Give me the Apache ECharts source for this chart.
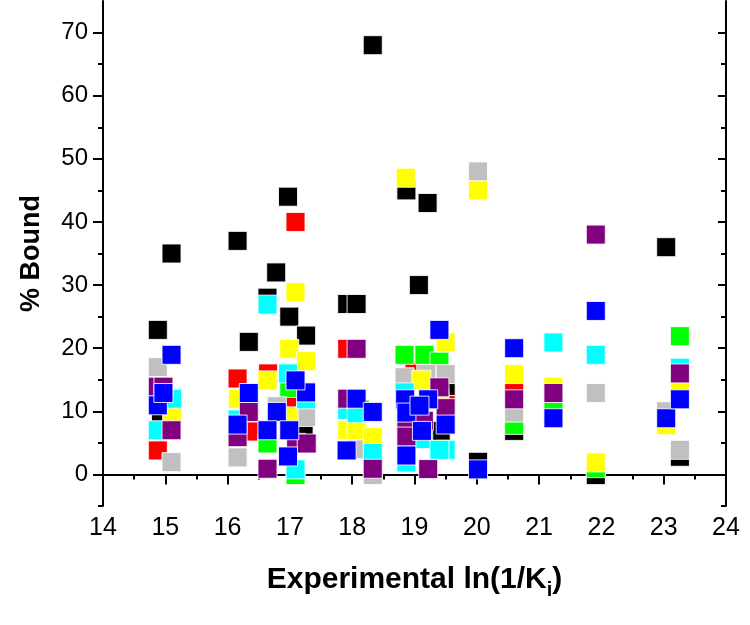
<!DOCTYPE html>
<html>
<head>
<meta charset="utf-8">
<script src="https://cdn.jsdelivr.net/npm/echarts@6/dist/echarts.min.js"></script>
<style>html,body{margin:0;padding:0;background:#fff;}#chart{width:750px;height:625px;}</style>
</head>
<body>
<div id="chart"></div>
<script>
// ---- data ([ln(1/Ki), % bound]) per colour ----
const black = [[14.88,22.9],[15.10,35.0],[14.93,9.5],[16.16,37.0],[16.34,21.0],[16.64,28.0],[16.78,32.0],[16.97,44.0],[16.99,25.0],[17.26,22.0],[17.22,7.0],[17.92,27.0],[18.07,27.0],[18.33,68.0],[18.87,45.0],[19.07,30.0],[19.21,43.0],[19.42,6.9],[19.50,13.0],[20.02,2.0],[20.60,6.9],[21.91,-0.1],[23.04,36.0],[23.26,2.8]];
const red = [[14.88,3.8],[16.16,15.2],[16.34,6.8],[16.65,16.0],[17.02,11.6],[17.09,40.0],[17.92,19.9],[19.00,16.5],[19.50,11.0],[20.60,14.0]];
const green = [[16.64,4.9],[16.99,13.7],[17.09,-0.1],[17.26,10.5],[18.12,10.3],[18.84,18.95],[19.16,18.95],[19.40,17.9],[20.60,7.85],[21.23,10.9],[21.91,1.0],[23.26,21.9]];
const gray = [[14.88,17.0],[15.10,1.95],[16.16,2.7],[16.79,10.8],[17.26,9.1],[18.07,4.0],[18.33,-0.1],[18.84,15.4],[19.19,15.9],[19.50,15.9],[20.02,48.0],[20.60,9.8],[21.91,12.9],[23.04,10.0],[23.26,3.9]];
const yellow = [[15.11,9.9],[16.17,12.0],[16.64,14.9],[16.98,9.2],[16.99,19.9],[17.09,28.9],[17.26,17.95],[17.92,7.0],[18.07,7.0],[18.33,5.9],[18.86,47.0],[19.11,15.0],[19.40,12.1],[19.50,20.9],[20.02,45.0],[20.60,15.9],[21.23,13.9],[21.91,1.9],[23.04,7.8],[23.26,13.7]];
const cyan = [[14.88,7.0],[15.11,12.0],[16.16,8.7],[16.64,26.9],[16.97,16.0],[17.09,0.8],[17.26,11.9],[17.92,10.2],[18.07,9.7],[18.33,3.4],[18.84,13.0],[18.87,1.9],[19.14,5.6],[19.50,3.9],[19.40,3.9],[21.23,20.9],[21.91,18.95],[23.26,16.9]];
const purple = [[14.88,13.9],[14.97,13.9],[15.10,7.0],[16.16,5.9],[16.34,9.9],[16.64,0.9],[17.10,5.0],[17.27,4.9],[17.92,12.0],[18.07,19.9],[18.33,0.9],[18.87,8.0],[18.87,6.0],[19.15,8.5],[19.22,0.85],[19.40,13.8],[19.50,10.5],[20.60,11.9],[21.23,12.9],[21.91,38.0],[23.26,16.0]];
const blue = [[15.10,18.95],[14.88,10.95],[14.97,12.9],[16.34,12.9],[16.16,7.9],[16.79,9.9],[16.64,7.0],[16.99,7.0],[16.97,2.85],[17.26,13.0],[17.09,14.9],[17.91,3.8],[18.07,12.0],[18.33,9.9],[18.85,11.9],[19.22,11.9],[18.87,9.8],[19.08,10.9],[19.12,6.9],[18.87,3.0],[19.40,22.9],[19.50,7.9],[20.02,0.8],[20.60,20.0],[21.23,8.9],[21.91,25.9],[23.04,8.9],[23.26,11.9]];

// ---- axes ticks ----
const xMin = 14, xMax = 24, xStep = 1;
const yMin = -5, yMax = 75;
const yMajorTicks = [0, 10, 20, 30, 40, 50, 60, 70];
const yMinorTicks = [-5, 5, 15, 25, 35, 45, 55, 65];

const seriesDefs = [
  ['black', black, '#000000'],
  ['red', red, '#ff0000'],
  ['green', green, '#00ff00'],
  ['gray', gray, '#c0c0c0'],
  ['yellow', yellow, '#ffff00'],
  ['cyan', cyan, '#00ffff'],
  ['purple', purple, '#800080'],
  ['blue', blue, '#0000ff']
];

const FONT = 'Liberation Sans, Arial, Helvetica, sans-serif';
const axisLine = {show: true, lineStyle: {color: '#000', width: 2}};
const tickLine = {color: '#000', width: 2};

const chart = echarts.init(document.getElementById('chart'), null, {renderer: 'canvas'});
chart.setOption({
  animation: false,
  backgroundColor: '#fff',
  grid: {left: 103, right: 24, top: 1, bottom: 119, containLabel: false},
  xAxis: [
    {
      type: 'value', min: xMin, max: xMax, interval: xStep, position: 'bottom',
      axisLine: axisLine,
      axisTick: {show: true, length: 10, lineStyle: tickLine},
      minorTick: {show: true, splitNumber: 2, length: 5, lineStyle: tickLine},
      splitLine: {show: false},
      axisLabel: {fontFamily: FONT, fontSize: 25, color: '#000', margin: 10},
      name: '{a|Experimental ln(1/K}{sub|i}{a|)}',
      nameLocation: 'middle', nameGap: 54,
      nameTextStyle: {
        color: '#000',
        rich: {
          a: {fontFamily: FONT, fontWeight: 'bold', fontSize: 30, lineHeight: 40, color: '#000'},
          sub: {fontFamily: FONT, fontWeight: 'bold', fontSize: 20, lineHeight: 14, verticalAlign: 'bottom', color: '#000'}
        }
      }
    },
    {
      type: 'value', min: xMin, max: xMax, interval: xStep, position: 'top',
      axisLine: axisLine,
      axisTick: {show: true, inside: true, length: 8, lineStyle: tickLine},
      minorTick: {show: true, splitNumber: 2, length: 5, lineStyle: tickLine},
      splitLine: {show: false},
      axisLabel: {show: false}
    }
  ],
  yAxis: [
    {
      type: 'value', min: yMin, max: yMax, position: 'left',
      axisLine: axisLine,
      axisTick: {show: true, length: 10, lineStyle: tickLine, customValues: yMajorTicks},
      splitLine: {show: false},
      axisLabel: {fontFamily: FONT, fontSize: 24, color: '#000', margin: 15, customValues: yMajorTicks},
      name: '% Bound', nameLocation: 'middle', nameGap: 58, nameRotate: 90,
      nameTextStyle: {fontFamily: FONT, fontWeight: 'bold', fontSize: 27, color: '#000'}
    },
    {
      type: 'value', min: yMin, max: yMax, position: 'right',
      axisLine: axisLine,
      axisTick: {show: true, inside: true, length: 8, lineStyle: tickLine, customValues: yMajorTicks},
      splitLine: {show: false},
      axisLabel: {show: false}
    },
    {
      type: 'value', min: yMin, max: yMax, position: 'left',
      axisLine: {show: false},
      axisTick: {show: true, length: 5, lineStyle: tickLine, customValues: yMinorTicks},
      splitLine: {show: false},
      axisLabel: {show: false}
    },
    {
      type: 'value', min: yMin, max: yMax, position: 'right',
      axisLine: {show: false},
      axisTick: {show: true, inside: true, length: 5, lineStyle: tickLine, customValues: yMinorTicks},
      splitLine: {show: false},
      axisLabel: {show: false}
    }
  ],
  series: seriesDefs.map(([name, data, color]) => ({
    name: name, type: 'scatter', xAxisIndex: 0, yAxisIndex: 0,
    data: data, symbol: 'rect', symbolSize: 19,
    itemStyle: {color: color, borderColor: 'rgba(255,255,255,0.85)', borderWidth: 1, opacity: 1},
    emphasis: {disabled: true}
  }))
});
</script>
</body>
</html>
